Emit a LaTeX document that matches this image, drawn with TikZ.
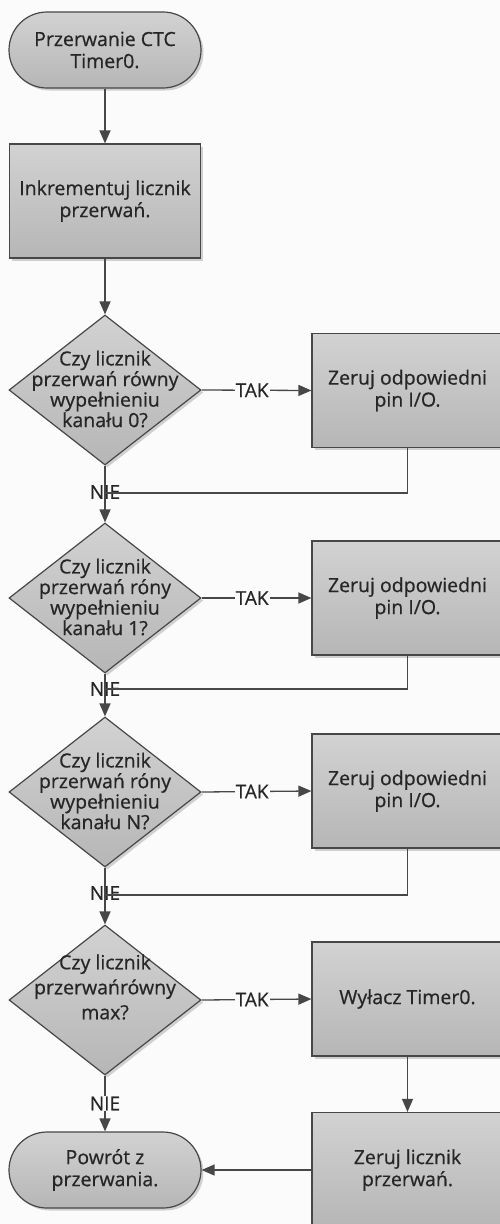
\documentclass[tikz,border=0pt]{standalone}
\usepackage{fontspec}
\setmainfont{Open Sans}[FakeBold=0.6]
\usetikzlibrary{shapes.geometric,arrows.meta,shadows}
\definecolor{bgc}{HTML}{FBFBFB}
\definecolor{edge}{HTML}{474747}
\definecolor{txt}{HTML}{262626}
\definecolor{topg}{HTML}{D2D2D2}
\definecolor{botg}{HTML}{B6B6B6}
\tikzset{
  shd/.style={drop shadow={shadow xshift=2.5pt,shadow yshift=-2.5pt,fill=black!35,opacity=0.5}},
  base/.style={draw=edge,line width=1.2pt,top color=topg,bottom color=botg,shd,text=txt,align=center,inner sep=0pt,font=\fontsize{19.5}{22}\selectfont},
  term/.style={base,rectangle,rounded corners=38pt,minimum width=192pt,minimum height=76pt},
  proc/.style={base,rectangle,minimum width=191pt,minimum height=114pt},
  dec/.style={base,diamond,minimum width=192pt,minimum height=150pt,inner sep=0pt},
  dtext/.style={text=txt,align=center,inner sep=0pt,font=\fontsize{19.5}{18.6}\selectfont},
  lbl/.style={text=txt,inner sep=1pt,font=\fontsize{19}{20}\selectfont},
  conn/.style={draw=edge,line width=1.3pt},
  arr/.style={conn,-{Triangle[width=11pt,length=13pt]}}
}
\begin{document}
\begin{tikzpicture}[x=1pt,y=-1pt]
\useasboundingbox (0,0) rectangle (500,1224);
\clip (0,0) rectangle (500,1224);
\fill[bgc] (0,0) rectangle (500,1224);

% left column
\node[term] (s) at (105,50) {Przerwanie CTC\\Timer0.};
\node[proc] (p1) at (105,201) {\fontsize{19.5}{23}\selectfont Inkrementuj licznik\\przerwań.};
\node[dec] (d1) at (105,390) {};
\node[dtext] (t1) at (105,389) {Czy licznik\\przerwań równy\\wypełnieniu\\kanału 0?};
\node[dec] (d2) at (105,598) {};
\node[dtext] (t2) at (105,597) {Czy licznik\\przerwań róny\\wypełnieniu\\kanału 1?};
\node[dec] (d3) at (105,792) {};
\node[dtext] (t3) at (105,791) {Czy licznik\\przerwań róny\\wypełnieniu\\kanału N?};
\node[dec] (d4) at (105,1000) {};
\node[dtext,font=\fontsize{19.5}{25}\selectfont] (t4) at (105,987) {Czy licznik\\przerwańrówny\\max?};
\node[term] (e) at (105,1170) {\fontsize{19.5}{26}\selectfont Powrót z\\przerwania.};

% right column
\node[proc] (b1) at (407.5,390.5) {\fontsize{19.5}{20}\selectfont Zeruj odpowiedni\\pin I/O.};
\node[proc] (b2) at (407.5,598) {\fontsize{19.5}{20}\selectfont Zeruj odpowiedni\\pin I/O.};
\node[proc] (b3) at (407.5,791) {\fontsize{19.5}{20}\selectfont Zeruj odpowiedni\\pin I/O.};
\node[proc] (b4) at (407.5,999) {Wyłacz Timer0.};
\node[proc,minimum height=115pt] (b5) at (407.5,1170) {\fontsize{19.5}{26}\selectfont Zeruj licznik\\przerwań.};

% join points
\coordinate (j1) at (105,493);
\coordinate (j2) at (105,689);
\coordinate (j3) at (105,895);

% NIE labels (lines pass over them)
\node[lbl] (n1) at (105,492) {NIE};
\node[lbl] (n2) at (105,689) {NIE};
\node[lbl] (n3) at (105,893) {NIE};

% connectors
\draw[arr] (s) -- (p1);
\draw[arr] (p1) -- (d1);
\draw[arr] (d1) -- (d2);
\draw[arr] (d2) -- (d3);
\draw[arr] (d3) -- (d4);
\draw[conn] (b1.south) |- (j1);
\draw[conn] (b2.south) |- (j2);
\draw[conn] (b3.south) |- (j3);

\draw[arr] (d1.east) -- node[lbl,fill=bgc,pos=0.46] (k1) {TAK} (b1.west);
\draw[arr] (d2.east) -- node[lbl,fill=bgc,pos=0.46] (k2) {TAK} (b2.west);
\draw[arr] (d3.east) -- node[lbl,fill=bgc,pos=0.46] (k3) {TAK} (b3.west);
\draw[arr] (d4.east) -- node[lbl,fill=bgc,pos=0.46] (k4) {TAK} (b4.west);

\draw[arr] (d4) -- node[lbl,fill=bgc,pos=0.5] (n4) {NIE} (e);
\draw[arr] (b4) -- (b5);
\draw[arr] (b5.west) -- (e.east);
\end{tikzpicture}
\end{document}
